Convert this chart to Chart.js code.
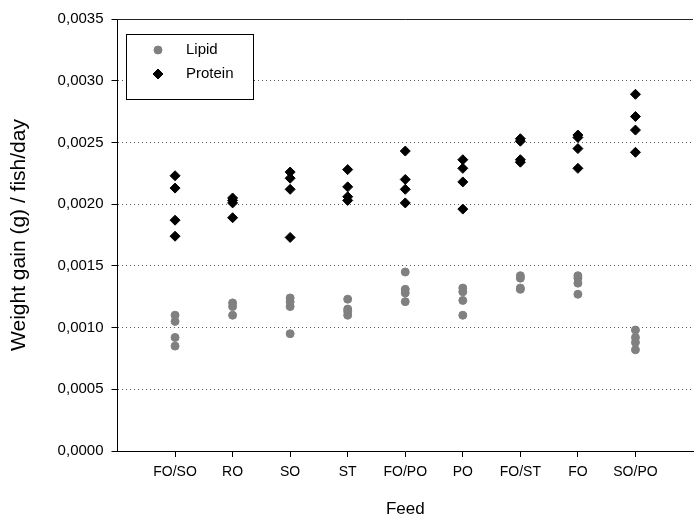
<!DOCTYPE html>
<html>
<head>
<meta charset="utf-8">
<script src="https://cdn.jsdelivr.net/npm/chart.js@4.4.0/dist/chart.umd.min.js"></script>
<style>
  html, body { margin: 0; padding: 0; background: #fff; overflow: hidden; }
</style>
</head>
<body>
<canvas id="myChart" width="699" height="518"></canvas>
<script>
'use strict';

// feeds along the x axis
const feeds = ['FO/SO', 'RO', 'SO', 'ST', 'FO/PO', 'PO', 'FO/ST', 'FO', 'SO/PO'];

// weight gain per replicate tank, one list per feed
const lipid = [
  [0.00110, 0.00105, 0.00092, 0.00085],
  [0.00120, 0.00117, 0.00110],
  [0.00124, 0.00121, 0.00117, 0.00095],
  [0.00123, 0.00115, 0.00113, 0.00110],
  [0.00145, 0.00131, 0.00128, 0.00121],
  [0.00132, 0.00129, 0.00122, 0.00110],
  [0.00142, 0.00140, 0.00132, 0.00131],
  [0.00142, 0.00140, 0.00136, 0.00127],
  [0.00098, 0.00092, 0.00088, 0.00082]
];
const protein = [
  [0.00223, 0.00213, 0.00187, 0.00174],
  [0.00205, 0.00203, 0.00201, 0.00189],
  [0.00226, 0.00221, 0.00212, 0.00173],
  [0.00228, 0.00214, 0.00206, 0.00203],
  [0.00243, 0.00220, 0.00212, 0.00201],
  [0.00236, 0.00229, 0.00218, 0.00196],
  [0.00253, 0.00251, 0.00236, 0.00234],
  [0.00256, 0.00254, 0.00245, 0.00229],
  [0.00289, 0.00271, 0.00260, 0.00242]
];

const yTicks = [0, 0.0005, 0.0010, 0.0015, 0.0020, 0.0025, 0.0030, 0.0035];

// turn the per-feed lists into x/y points (feed i sits at x = i + 1)
function toPoints(groups) {
  const pts = [];
  groups.forEach(function (vals, i) {
    vals.forEach(function (v) { pts.push({ x: i + 1, y: v }); });
  });
  return pts;
}

const FONT = 'Liberation Sans, Arial, sans-serif';
Chart.defaults.font.family = FONT;
Chart.defaults.color = '#000';

// top frame line + boxed legend inside the plot
const extras = {
  id: 'extras',
  afterDraw: function (chart) {
    const ctx = chart.ctx;
    const a = chart.chartArea;
    ctx.save();
    ctx.strokeStyle = '#222';
    ctx.lineWidth = 1;
    ctx.beginPath();
    ctx.moveTo(a.left, Math.round(a.top) + 0.5);
    ctx.lineTo(a.right, Math.round(a.top) + 0.5);
    ctx.stroke();

    // legend box
    ctx.fillStyle = '#fff';
    ctx.fillRect(126.5, 34.5, 127, 65);
    ctx.strokeStyle = '#000';
    ctx.strokeRect(126.5, 34.5, 127, 65);
    const rows = [50, 74];
    chart.data.datasets.forEach(function (ds, i) {
      ctx.fillStyle = ds.backgroundColor;
      ctx.strokeStyle = ds.borderColor;
      Chart.helpers.drawPoint(ctx, {
        pointStyle: ds.pointStyle,
        radius: ds.pointRadius,
        borderWidth: ds.borderWidth,
        rotation: 0
      }, 158, rows[i]);
      ctx.fillStyle = '#000';
      ctx.font = '15px ' + FONT;
      ctx.textBaseline = 'middle';
      ctx.fillText(ds.label, 186, rows[i]);
    });
    ctx.restore();
  }
};

const ctx = document.getElementById('myChart');
const myChart = new Chart(ctx, {
  type: 'scatter',
  data: {
    datasets: [{
      label: 'Lipid',
      data: toPoints(lipid),
      pointStyle: 'circle',
      pointRadius: 4,
      borderWidth: 1,
      backgroundColor: '#808080',
      borderColor: '#808080'
    }, {
      label: 'Protein',
      data: toPoints(protein),
      pointStyle: 'rectRot',
      pointRadius: 5,
      borderWidth: 1,
      backgroundColor: '#000',
      borderColor: '#000'
    }]
  },
  options: {
    responsive: false,
    animation: false,
    layout: { padding: { top: 19, right: 0, left: 0, bottom: 0 } },
    plugins: {
      legend: { display: false },
      tooltip: { enabled: false }
    },
    scales: {
      x: {
        type: 'linear',
        min: 0,
        max: 10,
        afterBuildTicks: function (axis) {
          axis.ticks = feeds.map(function (f, i) { return { value: i + 1 }; });
        },
        afterFit: function (scale) { scale.height = 67; },
        ticks: {
          autoSkip: false,
          maxRotation: 0,
          padding: 7,
          font: { size: 14 },
          callback: function (v) { return feeds[v - 1]; }
        },
        grid: {
          drawOnChartArea: false,
          drawTicks: true,
          tickLength: 6,
          tickColor: '#000'
        },
        border: { color: '#000', width: 1 },
        title: {
          display: true,
          text: 'Feed',
          font: { size: 17 },
          padding: { top: 0, bottom: -2 }
        }
      },
      y: {
        min: 0,
        max: 0.0035,
        afterBuildTicks: function (axis) {
          axis.ticks = yTicks.map(function (v) { return { value: v }; });
        },
        afterFit: function (scale) { scale.width = 117.5; },
        ticks: {
          padding: 8,
          font: { size: 15 },
          callback: function (v) { return v.toFixed(4).replace('.', ','); }
        },
        grid: {
          color: '#555',
          lineWidth: 1,
          tickLength: 6,
          tickColor: '#000'
        },
        border: { color: '#000', width: 1, dash: [1, 3] },
        title: {
          display: true,
          text: 'Weight gain (g) / fish/day',
          font: { size: 21 },
          padding: { top: 7, bottom: 0 }
        }
      }
    }
  },
  plugins: [extras]
});
</script>
</body>
</html>
